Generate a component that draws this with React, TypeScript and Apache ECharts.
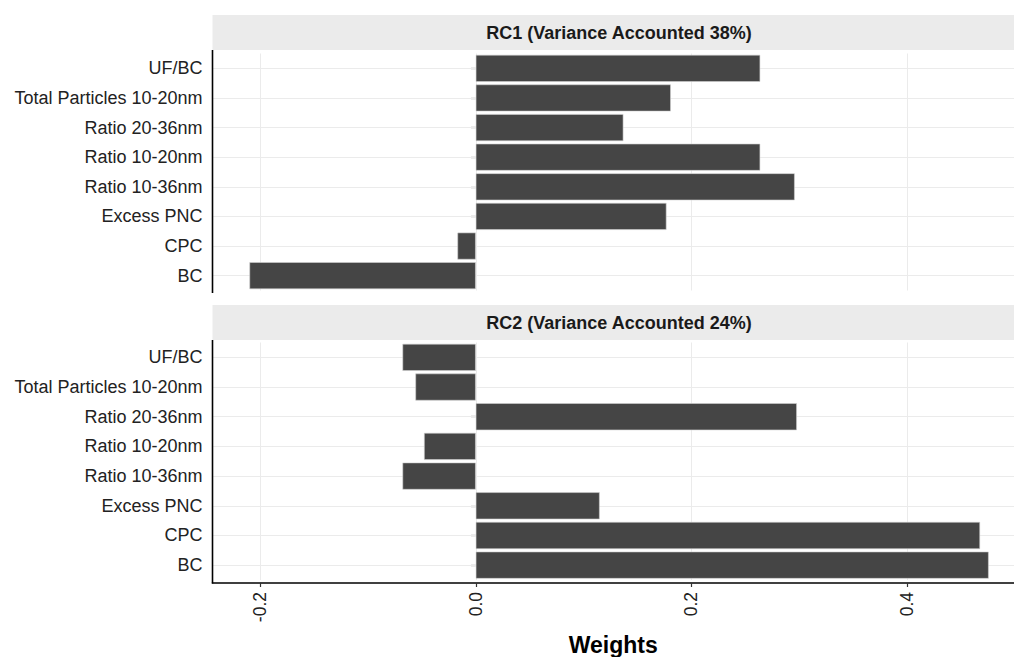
import React, { useEffect, useRef } from 'react';
import * as echarts from 'echarts';

const categories = [
  'BC',
  'CPC',
  'Excess PNC',
  'Ratio 10-36nm',
  'Ratio 10-20nm',
  'Ratio 20-36nm',
  'Total Particles 10-20nm',
  'UF/BC',
];
const rc1Values = [-0.21, -0.017, 0.177, 0.296, 0.264, 0.137, 0.181, 0.264];
const rc2Values = [0.476, 0.468, 0.115, -0.068, -0.048, 0.298, -0.056, -0.068];
const panelTitles = ['RC1 (Variance Accounted 38%)', 'RC2 (Variance Accounted 24%)'];
const xTickValues = [-0.2, 0, 0.2, 0.4];
const xMin = -0.2443;
const xMax = 0.4995;
const xAxisTitle = 'Weights';

const FONT = '"Liberation Sans", Arial, Helvetica, sans-serif';
const GRID_LEFT = 212.5;
const GRID_WIDTH = 801.5;
const TITLE_CENTER_X = 619;
const panels = [
  { top: 53.5, height: 237, stripTop: 15, panelTop: 50, panelBottom: 293 },
  { top: 342.5, height: 238, stripTop: 305, panelTop: 340, panelBottom: 583.5 },
];

export default function App() {
  const ref = useRef<HTMLDivElement>(null);

  useEffect(() => {
    if (!ref.current) return;
    const chart = echarts.init(ref.current, null, { renderer: 'svg' });
    const seriesData = [rc1Values, rc2Values];

    const graphic: any[] = [];
    panels.forEach((p, i) => {
      graphic.push({
        type: 'rect',
        shape: { x: GRID_LEFT, y: p.stripTop, width: GRID_WIDTH + 2, height: 35 },
        style: { fill: '#ebebeb' },
        silent: true,
        z: 0,
      });
      graphic.push({
        type: 'text',
        x: TITLE_CENTER_X,
        y: p.stripTop + 18,
        style: {
          text: panelTitles[i],
          font: `bold 18px ${FONT}`,
          fill: '#1a1a1a',
          textAlign: 'center',
          textVerticalAlign: 'middle',
        },
        silent: true,
        z: 10,
      });
      graphic.push({
        type: 'line',
        shape: { x1: GRID_LEFT, y1: p.panelTop, x2: GRID_LEFT, y2: p.panelBottom },
        style: { stroke: '#000', lineWidth: 1.6 },
        silent: true,
        z: 10,
      });
    });

    const option: any = {
      animation: false,
      backgroundColor: '#ffffff',
      textStyle: { fontFamily: FONT },
      graphic,
      grid: panels.map((p) => ({
        left: GRID_LEFT,
        top: p.top,
        width: GRID_WIDTH,
        height: p.height,
        containLabel: false,
      })),
      xAxis: panels.map((p, i) => ({
        type: 'value',
        gridIndex: i,
        min: xMin,
        max: xMax,
        splitNumber: 4,
        offset: i === 1 ? 3 : 0,
        axisLine: { show: i === 1, lineStyle: { color: '#000', width: 1.6 } },
        axisTick: {
          show: i === 1,
          customValues: xTickValues,
          length: 4,
          lineStyle: { color: '#333', width: 1.2 },
        },
        axisLabel: {
          show: i === 1,
          customValues: xTickValues,
          rotate: 90,
          fontSize: 17.5,
          color: '#222',
          fontFamily: FONT,
          margin: 9,
          formatter: (v: number) => v.toFixed(1),
        },
        splitLine: { show: true, lineStyle: { color: '#ebebeb', width: 1 } },
        name: i === 1 ? xAxisTitle : '',
        nameLocation: 'middle',
        nameGap: 50,
        nameTextStyle: { fontSize: 23, fontWeight: 'bold', color: '#000', fontFamily: FONT },
      })),
      yAxis: panels.map((p, i) => ({
        type: 'category',
        gridIndex: i,
        data: categories,
        axisLine: { show: false },
        axisTick: {
          show: true,
          alignWithLabel: true,
          length: 5,
          lineStyle: { color: '#333', width: 1.2 },
        },
        axisLabel: { fontSize: 18, color: '#222', fontFamily: FONT, margin: 10 },
        splitLine: { show: false },
      })),
      series: panels.map((p, i) => ({
        type: 'bar',
        xAxisIndex: i,
        yAxisIndex: i,
        data: seriesData[i],
        barCategoryGap: '9%',
        itemStyle: { color: '#454545', borderColor: '#d0d0d0', borderWidth: 0.6 },
        z: 2,
        markLine: {
          silent: true,
          symbol: 'none',
          z: 1,
          label: { show: false },
          lineStyle: { color: '#ebebeb', width: 1, type: 'solid' },
          data: categories.map((c) => ({ yAxis: c })),
        },
      })),
    };

    chart.setOption(option);
    return () => chart.dispose();
  }, []);

  return (
    <div
      ref={ref}
      style={{ position: 'fixed', left: 0, top: 0, width: 1014, height: 657, background: '#fff' }}
    />
  );
}
